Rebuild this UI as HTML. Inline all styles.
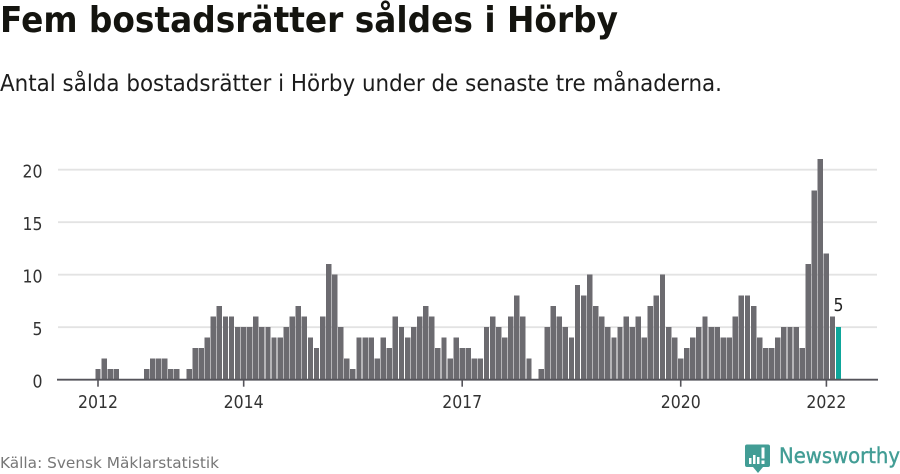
<!DOCTYPE html>
<html lang="sv">
<head>
<meta charset="utf-8">
<title>Fem bostadsrätter såldes i Hörby</title>
<style>
html,body{margin:0;padding:0;background:#fff;width:900px;height:474px;overflow:hidden}
svg{display:block}
text{font-family:"DejaVu Sans","Liberation Sans",sans-serif}
</style>
</head>
<body>
<svg id="chart" width="900" height="474" viewBox="0 0 900 474" xmlns="http://www.w3.org/2000/svg">
  <text x="0" y="32" font-size="36" font-weight="700" fill="#14140f" textLength="618" lengthAdjust="spacingAndGlyphs">Fem bostadsrätter såldes i Hörby</text>
  <text x="0" y="91" font-size="23" fill="#1c1c1c" textLength="722" lengthAdjust="spacingAndGlyphs">Antal sålda bostadsrätter i Hörby under de senaste tre månaderna.</text>
  <g id="grid"></g>
  <g id="yticks"></g>
  <g id="bars"></g>
  <g id="xticks"></g>
  <text x="0" y="468" font-size="15" fill="#777777" textLength="219" lengthAdjust="spacingAndGlyphs">Källa: Svensk Mäklarstatistik</text>
  <g>
    <path d="M747 444.500H768Q770 444.500 770 446.500V465Q770 467 768 467H763L758 473L753 467H747Q745 467 745 465V446.500Q745 444.500 747 444.500Z" fill="#429d95"/>
    <rect x="749" y="458" width="2.500" height="6" fill="#fff"/>
    <rect x="753" y="455" width="2.500" height="9" fill="#fff"/>
    <rect x="757" y="457" width="2.500" height="7" fill="#fff"/>
    <rect x="761.500" y="447.500" width="3" height="11" fill="#fff"/>
    <rect x="761.500" y="460.500" width="3" height="3.500" fill="#fff"/>
    <text x="779" y="463" font-size="21" fill="#429d95" stroke="#429d95" stroke-width="0.4" textLength="121" lengthAdjust="spacingAndGlyphs">Newsworthy</text>
  </g>
</svg>
<script>
// Monthly sales, starting January 2012
const firstYear = 2012;
const salesValues = [
  1,2,1,1,0,0,0,0,1,2,2,2,
  1,1,0,1,3,3,4,6,7,6,6,5,
  5,5,6,5,5,4,4,5,6,7,6,4,
  3,6,11,10,5,2,1,4,4,4,2,4,
  3,6,5,4,5,6,7,6,3,4,2,4,
  3,3,2,2,5,6,5,4,6,8,6,2,
  0,1,5,7,6,5,4,9,8,10,7,6,
  5,4,5,6,5,6,4,7,8,10,5,4,
  2,3,4,5,6,5,5,4,4,6,8,8,
  7,4,3,3,4,5,5,5,3,11,18,21,
  12,6,5
];
const yTickValues = [0,5,10,15,20];
const xTickYears = [2012,2014,2017,2020,2022];
const highlightLabel = "5";

const NS = "http://www.w3.org/2000/svg";
const monthStep = 6.07, monthOrigin = 98;
const zeroY = 379.7, unitHeight = 10.5;
const plotLeft = 58, plotRight = 877;

function xScale(monthIndex) { return monthOrigin + monthIndex * monthStep; }
function yScale(value) { return zeroY - value * unitHeight; }
function make(tag, attrs, parent, text) {
  const el = document.createElementNS(NS, tag);
  for (const k in attrs) el.setAttribute(k, attrs[k]);
  if (text !== undefined) el.textContent = text;
  parent.appendChild(el);
  return el;
}

const gridGroup = document.getElementById("grid");
const yGroup = document.getElementById("yticks");
const barGroup = document.getElementById("bars");
const xGroup = document.getElementById("xticks");

yTickValues.forEach(function (v) {
  if (v !== 0) {
    const line = make("line", {x1: plotLeft, x2: plotRight, y1: yScale(v), y2: yScale(v), stroke: "#e3e3e3", "stroke-width": 1.8}, gridGroup);
    
    
  }
  const label = make("text", {x: 42.5, y: yScale(v) + 7.8, "text-anchor": "end", "font-size": 18, fill: "#333", textLength: String(v).length * 10, lengthAdjust: "spacingAndGlyphs"}, yGroup, String(v));
  
  
});

salesValues.forEach(function (v, i) {
  if (v === 0) return;
  const isLast = i === salesValues.length - 1;
  const bar = make("rect", {x: xScale(i) - 2.7, y: yScale(v), width: 5.4, height: zeroY - yScale(v), fill: isLast ? "#0ea69b" : "#6c6b70", "shape-rendering": "crispEdges"}, barGroup);
  
  
  if (isLast) {
    const label = make("text", {x: xScale(i), y: yScale(v) - 16, "text-anchor": "middle", "font-size": 18, fill: "#222", textLength: 10, lengthAdjust: "spacingAndGlyphs"}, barGroup, highlightLabel);
    
    
  }
});

const axisLine = make("line", {x1: plotLeft - 1, x2: plotRight + 1, y1: zeroY, y2: zeroY, stroke: "#55545a", "stroke-width": 1.8}, xGroup);



xTickYears.forEach(function (year) {
  const x = xScale((year - firstYear) * 12);
  const tick = make("line", {x1: x, x2: x, y1: zeroY, y2: zeroY + 7, stroke: "#55545a", "stroke-width": 1.6}, xGroup);
  
  
  const label = make("text", {x: x, y: 408, "text-anchor": "middle", "font-size": 18, fill: "#333", textLength: 40, lengthAdjust: "spacingAndGlyphs"}, xGroup, String(year));
  
  
});
</script>
</body>
</html>
